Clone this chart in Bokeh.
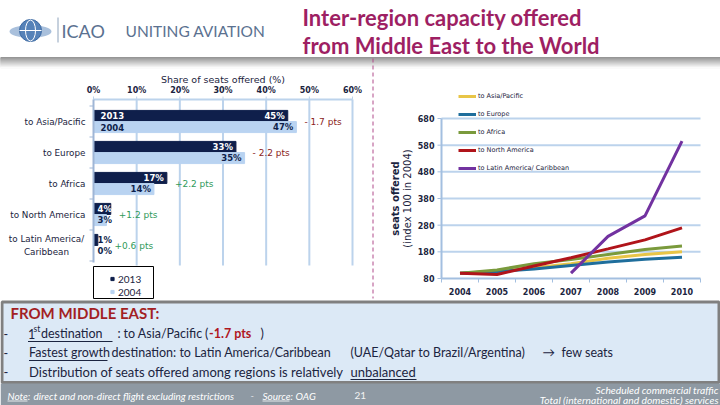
import numpy as np
from bokeh.plotting import figure
from bokeh.models import Range1d, Legend, LegendItem, ColumnDataSource
from bokeh.transform import dodge
from bokeh.core.properties import value
from bokeh.embed import file_html
from bokeh.resources import INLINE

# ---------------------------------------------------------------- data
regions = ["to Asia/Pacific", "to Europe", "to Africa", "to North America",
           "to Latin America/\nCaribbean"]
share_2013 = [45, 33, 17, 4, 1]
share_2004 = [47, 35, 14, 3, 0]
change_pts = [-1.7, -2.2, 2.2, 1.2, 0.6]
share_ticks = [0, 10, 20, 30, 40, 50, 60]
series_years = ["2013", "2004"]

years = [2004, 2005, 2006, 2007, 2008, 2009, 2010]
line_names = ["to Asia/Pacific", "to Europe", "to Africa", "to North America",
              "to Latin America/ Caribbean"]
idx_asia = [100, 107, 120, 135, 156, 170, 180]
idx_europe = [100, 106, 116, 129, 142, 152, 160]
idx_africa = [100, 112, 135, 151, 170, 189, 202]
idx_north_america = [100, 95, 127, 158, 191, 225, 270]
idx_latin = [np.nan, np.nan, np.nan, 100, 238, 315, 595]
index_ticks = [80, 180, 280, 380, 480, 580, 680]

# ---------------------------------------------------------------- styles
NAVY = "#0f1f4b"
LIGHT = "#b9d3f1"
GRID = "#bcd3ec"
AXIS = "#a3bfe0"
TXT = "#1b2440"
PLUM = "#9e1f63"
LOGO = "#5b7190"
SANS = value("DejaVu Sans")
LATO = value("Lato")
line_colors = ["#e8c547", "#1f6e9c", "#7a9a3c", "#b0141a", "#7232a0"]

W, H = 720, 405


def mapped_range(v_a, px_a, v_b, px_b, px_start, px_end):
    """Range whose values v_a, v_b land on pixels px_a, px_b of the page."""
    k = (v_b - v_a) / (px_b - px_a)
    return Range1d(v_a + (px_start - px_a) * k, v_a + (px_end - px_a) * k)


# one page-sized canvas; page pixels on the default ranges (y grows downward),
# and one pair of scales for each of the two charts
p = figure(width=W, height=H, x_range=Range1d(0, W), y_range=Range1d(H, 0),
           x_axis_location=None, y_axis_location=None, min_border=0,
           output_backend="svg", toolbar_location=None)
p.grid.visible = False
p.outline_line_color = None
p.extra_x_ranges = {"share": mapped_range(0, 93, 60, 352, 0, W),
                    "year": mapped_range(2004, 459.5, 2010, 681.5, 0, W)}
p.extra_y_ranges = {"cat": mapped_range(0, 245, 4, 121, H, 0),
                    "index": mapped_range(80, 278, 680, 118, H, 0)}
B = dict(x_range_name="share", y_range_name="cat")
L = dict(x_range_name="year", y_range_name="index")

# ---------------------------------------------------------------- header
shade_top = [57 + k for k in range(11)]
shades = ["#%02x%02x%02x" % ((int(150 + 10 * k),) * 3) for k in range(11)]
p.quad(left=0, right=W, top=shade_top, bottom=[t + 1 for t in shade_top], color=shades)
p.segment(x0=372.5, y0=58, x1=372.5, y1=298, line_color="#b04a8a",
          line_dash="4 3", line_width=1)
p.ellipse(x=30, y=31, width=42, height=13, fill_color="#a9c0dc", line_color=None)
p.ellipse(x=30, y=30, width=22, height=22, fill_color="#5682b8", line_color="#3d6aa3")
p.ellipse(x=30, y=30, width=10, height=21, fill_color=None, line_color="white", line_width=1)
p.segment(x0=19, y0=30, x1=41, y1=30, line_color="white", line_width=1)
p.segment(x0=57.5, y0=17, x1=57.5, y1=42, line_color="#8ea3bc", line_width=1)
p.text(x=[61], y=[30], text=["ICAO"], text_font=LATO, text_font_size="18px",
       text_color=LOGO, text_baseline="middle")
p.text(x=[125], y=[30], text=["UNITING AVIATION"], text_font=LATO,
       text_font_size="15.5px", text_color=LOGO, text_baseline="middle")
p.text(x=[302, 302], y=[17, 45],
       text=["Inter-region capacity offered", "from Middle East to the World"],
       text_font=LATO, text_font_size="22px", text_font_style="bold",
       text_color=PLUM, text_baseline="middle")

# ---------------------------------------------------------------- bar chart
n = len(regions)
pos = [n - 1 - i for i in range(n)]
BAR_TOP, BAR_BOTTOM = 4.71, -0.645          # plot-area limits on the category scale

p.segment(x0=share_ticks[1:], y0=BAR_BOTTOM, x1=share_ticks[1:], y1=BAR_TOP,
          line_color=GRID, line_width=2, **B)
p.segment(x0=share_ticks[0], y0=BAR_TOP, x1=share_ticks[-1], y1=BAR_TOP,
          line_color=GRID, line_width=2, **B)
p.ray(x=share_ticks, y=BAR_TOP, length=3, length_units="screen", angle=np.pi / 2,
      line_color=GRID, line_width=1, **B)
p.text(x=share_ticks, y=BAR_TOP, text=[f"{t}%" for t in share_ticks], y_offset=-4,
       text_align="center", text_baseline="bottom", text_font=SANS,
       text_font_size="8px", text_font_style="bold", text_color=TXT, **B)
p.text(x=[np.mean(share_ticks)], y=[BAR_TOP], text=["Share of seats offered (%)"],
       y_offset=-14, text_align="center", text_baseline="bottom", text_font=SANS,
       text_font_size="9.5px", text_color=TXT, **B)

src = ColumnDataSource(dict(pos=pos, v13=share_2013, v04=share_2004))
p.hbar(y=dodge("pos", 0.18), left=0, right="v13", height=0.355, color=NAVY,
       source=src, **B)
p.hbar(y=dodge("pos", -0.18), left=0, right="v04", height=0.355, color=LIGHT,
       source=src, **B)

bounds = [k - 0.5 for k in range(n + 1)]
p.segment(x0=0, y0=BAR_BOTTOM + 0.1, x1=0, y1=BAR_TOP, line_color="#9fb6d6",
          line_width=2, **B)
p.ray(x=0, y=bounds, length=4, length_units="screen", angle=np.pi,
      line_color="#9fb6d6", line_width=1, **B)
# single-line names sit flush right; a wrapped name is centred as a block
multi = ["\n" in r for r in regions]
p.text(x=0, y=pos, text=regions, x_offset=[-47 if m else -8 for m in multi],
       text_align=["center" if m else "right" for m in multi],
       text_baseline="middle", text_font=SANS, text_font_size="8.8px",
       text_color=TXT, text_line_height=1.3, **B)

lab = dict(x=[], y=[], text=[], align=[], dx=[], color=[])
for p_, v13, v04 in zip(pos, share_2013, share_2004):
    for v, off, col in ((v13, 0.18, "white" if v13 >= 3 else NAVY), (v04, -0.18, NAVY)):
        big = v >= 5
        lab["x"].append(v if big else 0)
        lab["y"].append(p_ + off)
        lab["text"].append(f"{v}%")
        lab["align"].append("right" if big else "left")
        lab["dx"].append(-3 if big else 4)
        lab["color"].append(col)
p.text(x="x", y="y", text="text", text_align="align", x_offset="dx",
       text_color="color", text_baseline="middle", text_font=SANS,
       text_font_size="8.5px", text_font_style="bold", source=ColumnDataSource(lab), **B)
p.text(x=[0, 0], y=[pos[0] + 0.18, pos[0] - 0.18], text=series_years,
       x_offset=7, text_color=["white", NAVY], text_baseline="middle",
       text_font=SANS, text_font_size="8.5px", text_font_style="bold", **B)

chg = dict(x=[max(a, b, 3) for a, b in zip(share_2013, share_2004)], y=pos,
           text=[f"- {abs(c)} pts" if c < 0 else f"+{c} pts" for c in change_pts],
           color=["#8b1c1c" if c < 0 else "#2f9a5a" for c in change_pts])
p.text(x="x", y="y", text="text", text_color="color", x_offset=8,
       text_baseline="middle", text_font=SANS, text_font_size="9px",
       source=ColumnDataSource(chg), **B)

# legend keys: square markers that carry no visible point of their own
k13 = p.scatter(x=[np.nan], y=[np.nan], marker="square", size=6, color=NAVY, **B)
k04 = p.scatter(x=[np.nan], y=[np.nan], marker="square", size=6, color=LIGHT, **B)
p.quad(left=93, right=153, top=266, bottom=298, fill_color="white",
       line_color="black", line_width=1)
p.add_layout(Legend(items=[LegendItem(label=series_years[0], renderers=[k13]),
                           LegendItem(label=series_years[1], renderers=[k04])],
                    location=(108, 107), orientation="vertical", padding=3, margin=0,
                    spacing=0, glyph_width=8, glyph_height=13, label_height=13,
                    label_standoff=2, label_text_font="Lato",
                    label_text_font_size="10px", label_text_color=TXT,
                    border_line_color=None, background_fill_alpha=0))

# ---------------------------------------------------------------- line chart
x_lo, x_hi = years[0] - 0.5, years[-1] + 0.5
p.segment(x0=x_lo, y0=index_ticks[1:], x1=x_hi, y1=index_ticks[1:],
          line_color=GRID, line_width=2, **L)
p.segment(x0=x_lo, y0=index_ticks[0], x1=x_lo, y1=index_ticks[-1],
          line_color=AXIS, line_width=2, **L)
p.segment(x0=x_lo, y0=index_ticks[0], x1=x_hi, y1=index_ticks[0],
          line_color=AXIS, line_width=2, **L)
p.ray(x=x_lo, y=index_ticks, length=4, length_units="screen", angle=np.pi,
      line_color=AXIS, line_width=1, **L)
p.ray(x=[y - 0.5 for y in years] + [x_hi], y=index_ticks[0], length=4,
      length_units="screen", angle=-np.pi / 2, line_color=AXIS, line_width=1, **L)
p.text(x=x_lo, y=index_ticks, text=[str(t) for t in index_ticks], x_offset=-7,
       text_align="right", text_baseline="middle", text_font=SANS,
       text_font_size="8px", text_font_style="bold", text_color=TXT, **L)
p.text(x=years, y=index_ticks[0], text=[str(y) for y in years], y_offset=9,
       text_align="center", text_baseline="top", text_font=SANS,
       text_font_size="8px", text_font_style="bold", text_color=TXT, **L)
y_mid = (index_ticks[0] + index_ticks[-1]) / 2
p.text(x=[2002.26, 2002.58], y=[y_mid, y_mid],
       text=["seats offered", "(index 100 in 2004)"], angle=np.pi / 2,
       text_align="center", text_baseline="middle", text_font=SANS,
       text_font_size="10px", text_font_style=["bold", "normal"], text_color=TXT, **L)

items = []
for name, vals, col in zip(line_names,
                           [idx_asia, idx_europe, idx_africa, idx_north_america, idx_latin],
                           line_colors):
    r = p.line(x=np.array(years, dtype=float), y=np.array(vals, dtype=float),
               line_color=col, line_width=3, **L)
    items.append(LegendItem(label=name, renderers=[r]))
p.add_layout(Legend(items=items, location=(458, 228), orientation="vertical",
                    padding=0, margin=0, spacing=0, glyph_width=18, glyph_height=18,
                    label_height=18, label_standoff=2, label_text_font="DejaVu Sans",
                    label_text_font_size="6.5px", label_text_color=TXT,
                    background_fill_alpha=0, border_line_color=None))

# ---------------------------------------------------------------- message box
p.quad(left=1.5, right=718.5, top=301.5, bottom=382, fill_color="#dce9f6",
       line_color="#808080", line_width=3)
p.quad(left=0, right=W, top=383, bottom=H, fill_color="#8e99a3", line_color=None)

p.text(x=[10], y=[312], text=["FROM MIDDLE EAST:"], text_font=LATO,
       text_font_size="15px", text_font_style="bold", text_color="#a31f24",
       text_baseline="middle")
body = dict(x=[], y=[], text=[], size=[])
for x_, y_, t_ in [(3, 333, "-"), (3, 352, "-"), (3, 371, "-"),
                   (27.5, 333, "1"), (40.5, 333, "destination"), (117, 333, ":"),
                   (123, 333, regions[0]), (204.5, 333, "("), (260, 333, ")"),
                   (28.5, 352, "Fastest growth"),
                   (111, 352, "destination: to Latin America/Caribbean"),
                   (350, 352, "(UAE/Qatar to Brazil/Argentina)"),
                   (542, 352, "\u2192"), (561, 352, "few seats"),
                   (28.5, 371, "Distribution of seats offered among regions is relatively"),
                   (350, 371, "unbalanced")]:
    body["x"].append(x_)
    body["y"].append(y_)
    body["text"].append(t_)
    body["size"].append("13px" if y_ == 371 else "12.5px")
p.text(x="x", y="y", text="text", text_font=LATO, text_font_size="size",
       text_color=TXT, text_baseline="middle", source=ColumnDataSource(body))
p.text(x=[33], y=[328], text=["st"], text_font=LATO, text_font_size="8.5px",
       text_color=TXT, text_baseline="middle")
p.text(x=[208.5], y=[333], text=[f"{change_pts[0]} pts"], text_font=LATO,
       text_font_size="12.5px", text_font_style="bold", text_color="#b0171f",
       text_baseline="middle")
p.segment(x0=[27.5, 28.5, 350], y0=[341, 360, 379], x1=[112, 107, 416],
          y1=[341, 360, 379], line_color=TXT, line_width=1)

note = dict(x=[7, 33, 250, 262, 295], y=[395] * 5,
            text=["Note:", "direct and non-direct flight excluding restrictions", "-",
                  "Source:", "OAG"])
p.text(x="x", y="y", text="text", text_font=LATO, text_font_size="10px",
       text_font_style="italic", text_color="white", text_baseline="middle",
       source=ColumnDataSource(note))
p.segment(x0=[7, 262], y0=[400.5, 400.5], x1=[27, 289], y1=[400.5, 400.5],
          line_color="white", line_width=0.8)
p.text(x=[354], y=[395], text=["21"], text_font=LATO, text_font_size="10px",
       text_color="#f2f2f2", text_baseline="middle")
p.text(x=[718, 718], y=[389, 399.5],
       text=["Scheduled commercial traffic", "Total (international and domestic) services"],
       text_font=LATO, text_font_size="10.3px", text_font_style="italic",
       text_color="white", text_align="right", text_baseline="middle")

open("out.html", "w").write(file_html(p, INLINE))
